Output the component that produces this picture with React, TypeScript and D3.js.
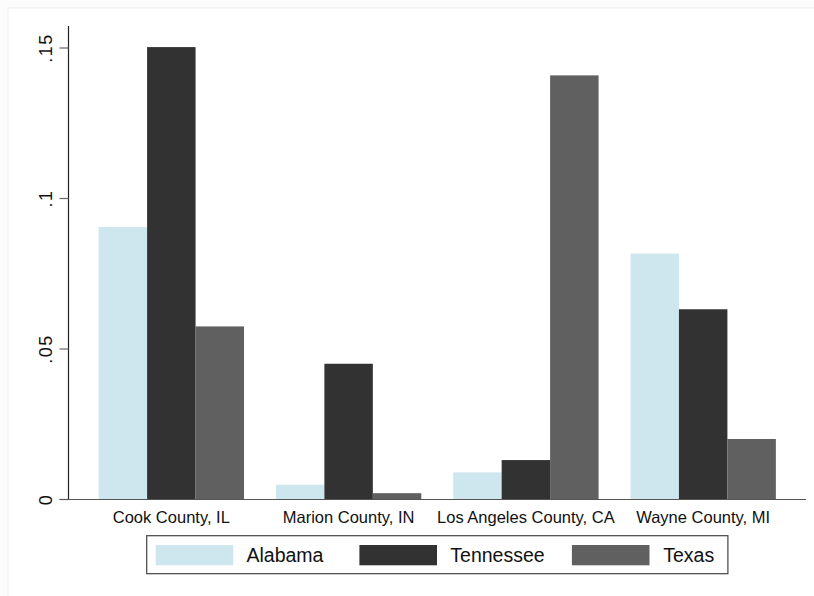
import React from "react";
import * as d3 from "d3";

const categories = ["Cook County, IL", "Marion County, IN", "Los Angeles County, CA", "Wayne County, MI"];
const seriesNames = ["Alabama", "Tennessee", "Texas"];
const alabama = [0.0905, 0.0049, 0.0090, 0.0817];
const tennessee = [0.1503, 0.0451, 0.0131, 0.0632];
const texas = [0.0575, 0.0021, 0.1409, 0.0201];
const yTicks = [0, 0.05, 0.1, 0.15];
const yTickLabels = ["0", ".05", ".1", ".15"];

const colors = ["#cee6ee", "#323232", "#606060"];
const FONT = "Arial, 'Liberation Sans', Helvetica, sans-serif";

export default function App() {
  const W = 814, H = 596;
  const left = 68.5, right = 806, top = 26, bottom = 499.5;
  const values = [alabama, tennessee, texas];

  const x0 = d3.scaleBand<string>().domain(categories).range([left, right]).paddingInner(0.18).paddingOuter(0.17);
  const x1 = d3.scaleBand<string>().domain(seriesNames).range([0, x0.bandwidth()]).padding(0);
  const y = d3.scaleLinear().domain([0, 0.15]).range([bottom, 48]);

  const legendItems = [
    { name: seriesNames[0], sx: 155.7, tx: 246.5 },
    { name: seriesNames[1], sx: 359.4, tx: 450.3 },
    { name: seriesNames[2], sx: 571.9, tx: 663.2 },
  ];

  return (
    <svg width={W} height={H} style={{ position: "absolute", left: 0, top: 0, background: "#fcfcfc" }}>
      <rect x={8} y={8} width={W + 20} height={H + 20} fill="#ffffff" stroke="#eeeeee" strokeWidth={1} />
      {categories.map((c, ci) =>
        seriesNames.map((s, si) => {
          const v = values[si][ci];
          return (
            <rect
              key={c + s}
              x={(x0(c) as number) + (x1(s) as number)}
              y={y(v)}
              width={x1.bandwidth()}
              height={bottom - y(v)}
              fill={colors[si]}
            />
          );
        })
      )}
      {/* y axis */}
      <line x1={left} x2={left} y1={top} y2={bottom} stroke="#222" strokeWidth={1.2} />
      {yTicks.map((t, i) => (
        <g key={t}>
          <line x1={left - 9} x2={left} y1={y(t)} y2={y(t)} stroke="#666" strokeWidth={1.2} />
          <text
            transform={`translate(${52},${y(t)}) rotate(-90)`}
            textAnchor="middle"
            fontFamily={FONT}
            fontSize={18}
            letterSpacing={1.5}
            fill="#111"
          >
            {yTickLabels[i]}
          </text>
        </g>
      ))}
      {/* x axis */}
      <line x1={left - 9} x2={right} y1={bottom} y2={bottom} stroke="#555" strokeWidth={1.2} />
      {categories.map((c) => (
        <text
          key={c}
          x={(x0(c) as number) + x0.bandwidth() / 2}
          y={523}
          textAnchor="middle"
          fontFamily={FONT}
          fontSize={16.5}
          fill="#111"
        >
          {c}
        </text>
      ))}
      {/* legend */}
      <rect x={146.7} y={535.7} width={581.2} height={38} fill="#fff" stroke="#444" strokeWidth={1.2} />
      {legendItems.map((it, i) => (
        <g key={it.name}>
          <rect x={it.sx} y={545} width={77.6} height={20.3} fill={colors[i]} />
          <text x={it.tx} y={562.3} fontFamily={FONT} fontSize={19.5} fill="#111">
            {it.name}
          </text>
        </g>
      ))}
    </svg>
  );
}
